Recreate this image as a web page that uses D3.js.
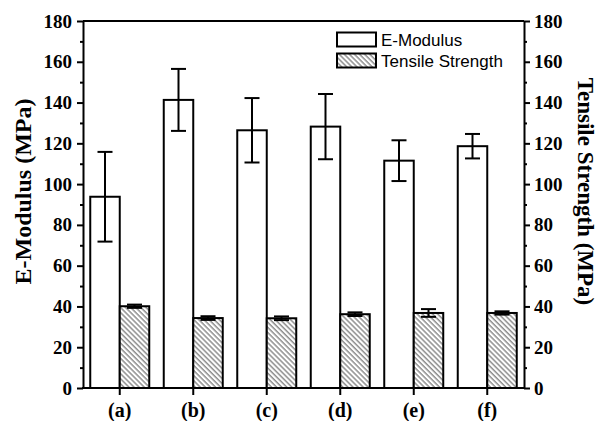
<!DOCTYPE html>
<html>
<head>
<meta charset="utf-8">
<script src="https://cdn.jsdelivr.net/npm/d3@7"></script>
<style>
  body { margin: 0; background: #fff; }
  svg { display: block; }
</style>
</head>
<body>
<div id="chart"></div>
<script>
const categories = ["(a)", "(b)", "(c)", "(d)", "(e)", "(f)"];
const modulus = [93.8, 141.3, 126.4, 128.2, 111.5, 118.6];
const modulusErr = [22.0, 15.2, 15.8, 16.0, 10.0, 6.0];
const strength = [40.1, 34.3, 34.2, 36.2, 36.8, 36.8];
const strengthErr = [0.8, 0.9, 0.9, 0.9, 1.9, 0.8];
const yTicks = [0, 20, 40, 60, 80, 100, 120, 140, 160, 180];
const yMinor = [10, 30, 50, 70, 90, 110, 130, 150, 170];

const width = 600;
const height = 421;
const margin = { top: 21, right: 76, bottom: 33, left: 83 };
const serif = "'Liberation Serif', 'Times New Roman', serif";
const sans = "'Liberation Sans', Arial, sans-serif";

const svg = d3.select("#chart")
    .append("svg")
    .attr("width", width)
    .attr("height", height);

const defs = svg.append("defs");
const hatch = defs.append("pattern")
    .attr("id", "hatch")
    .attr("patternUnits", "userSpaceOnUse")
    .attr("width", 3.6)
    .attr("height", 3.6)
    .attr("patternTransform", "rotate(-45)");
hatch.append("rect").attr("width", 3.6).attr("height", 3.6).attr("fill", "#fff");
hatch.append("line")
    .attr("x1", 1).attr("y1", 0).attr("x2", 1).attr("y2", 3.6)
    .attr("stroke", "#555").attr("stroke-width", 1);

const x = d3.scaleBand()
    .domain(categories)
    .range([margin.left, width - margin.right]);

const y = d3.scaleLinear()
    .domain([0, 180])
    .range([height - margin.bottom, margin.top]);

const barW = 29.5;
const capW = 15;

// bars
const groups = svg.append("g");
categories.forEach((c, i) => {
    const cx = x(c) + x.bandwidth() / 2;
    groups.append("rect")
        .attr("x", cx - barW)
        .attr("y", y(modulus[i]))
        .attr("width", barW)
        .attr("height", y(0) - y(modulus[i]))
        .attr("fill", "#fff")
        .attr("stroke", "#000")
        .attr("stroke-width", 2);
    groups.append("rect")
        .attr("x", cx)
        .attr("y", y(strength[i]))
        .attr("width", barW)
        .attr("height", y(0) - y(strength[i]))
        .attr("fill", "url(#hatch)")
        .attr("stroke", "#000")
        .attr("stroke-width", 2);
});

// error bars
function errorBar(cx, v, e) {
    const g = svg.append("g").attr("stroke", "#000").attr("stroke-width", 2);
    g.append("line").attr("x1", cx).attr("x2", cx).attr("y1", y(v + e)).attr("y2", y(v - e));
    g.append("line").attr("x1", cx - capW / 2).attr("x2", cx + capW / 2).attr("y1", y(v + e)).attr("y2", y(v + e));
    g.append("line").attr("x1", cx - capW / 2).attr("x2", cx + capW / 2).attr("y1", y(v - e)).attr("y2", y(v - e));
}
categories.forEach((c, i) => {
    const cx = x(c) + x.bandwidth() / 2;
    errorBar(cx - barW / 2, modulus[i], modulusErr[i]);
    errorBar(cx + barW / 2, strength[i], strengthErr[i]);
});

// frame
const x0 = margin.left, x1 = width - margin.right;
const y0 = y(0), y1 = y(180);
svg.append("path")
    .attr("d", `M${x0},${y1}H${x1}`)
    .attr("stroke", "#000").attr("stroke-width", 2).attr("fill", "none");

function styleAxis(g) {
    g.select(".domain").attr("stroke-width", 2);
    g.selectAll(".tick line").attr("stroke-width", 2);
    g.selectAll(".tick text")
        .attr("font-family", serif)
        .attr("font-weight", "bold")
        .attr("font-size", 19)
        .attr("fill", "#000");
}

svg.append("g")
    .attr("transform", `translate(${x0},0)`)
    .call(d3.axisLeft(y).tickValues(yTicks).tickSize(6).tickPadding(5).tickSizeOuter(0))
    .call(styleAxis);
svg.append("g")
    .attr("transform", `translate(${x0},0)`)
    .call(d3.axisLeft(y).tickValues(yMinor).tickSize(3).tickFormat("").tickSizeOuter(0))
    .call(g => g.selectAll("line").attr("stroke-width", 2))
    .call(g => g.select(".domain").remove());

svg.append("g")
    .attr("transform", `translate(${x1},0)`)
    .call(d3.axisRight(y).tickValues(yTicks).tickSize(6).tickPadding(4).tickSizeOuter(0))
    .call(styleAxis);
svg.append("g")
    .attr("transform", `translate(${x1},0)`)
    .call(d3.axisRight(y).tickValues(yMinor).tickSize(3).tickFormat("").tickSizeOuter(0))
    .call(g => g.selectAll("line").attr("stroke-width", 2))
    .call(g => g.select(".domain").remove());

svg.append("g")
    .attr("transform", `translate(0,${y0})`)
    .call(d3.axisBottom(x).tickSize(7).tickPadding(8).tickSizeOuter(0))
    .call(styleAxis)
    .call(g => g.selectAll(".tick text").attr("font-size", 20))
    .call(g => g.select(".domain").attr("d", `M${x0 - 1},0H${x1 + 1}`));

// axis titles
svg.append("text")
    .attr("transform", `translate(31,${(98 + 285) / 2}) rotate(-90)`)
    .attr("text-anchor", "middle")
    .attr("font-family", serif)
    .attr("font-weight", "bold")
    .attr("font-size", 24)
    .text("E-Modulus (MPa)");

svg.append("text")
    .attr("transform", `translate(578,${(75 + 308) / 2}) rotate(90)`)
    .attr("text-anchor", "middle")
    .attr("font-family", serif)
    .attr("font-weight", "bold")
    .attr("font-size", 23)
    .text("Tensile Strength (MPa)");

// legend
const legend = svg.append("g").attr("transform", "translate(337,32.5)");
const legendItems = [
    { label: "E-Modulus", fill: "#fff" },
    { label: "Tensile Strength", fill: "url(#hatch)" }
];
legendItems.forEach((d, i) => {
    const g = legend.append("g").attr("transform", `translate(0,${i * 21})`);
    g.append("rect")
        .attr("width", 39).attr("height", 14)
        .attr("fill", d.fill).attr("stroke", "#000").attr("stroke-width", 2);
    g.append("text")
        .attr("x", 44).attr("y", 13)
        .attr("font-family", sans)
        .attr("font-size", 17)
        .text(d.label);
});
</script>
</body>
</html>
